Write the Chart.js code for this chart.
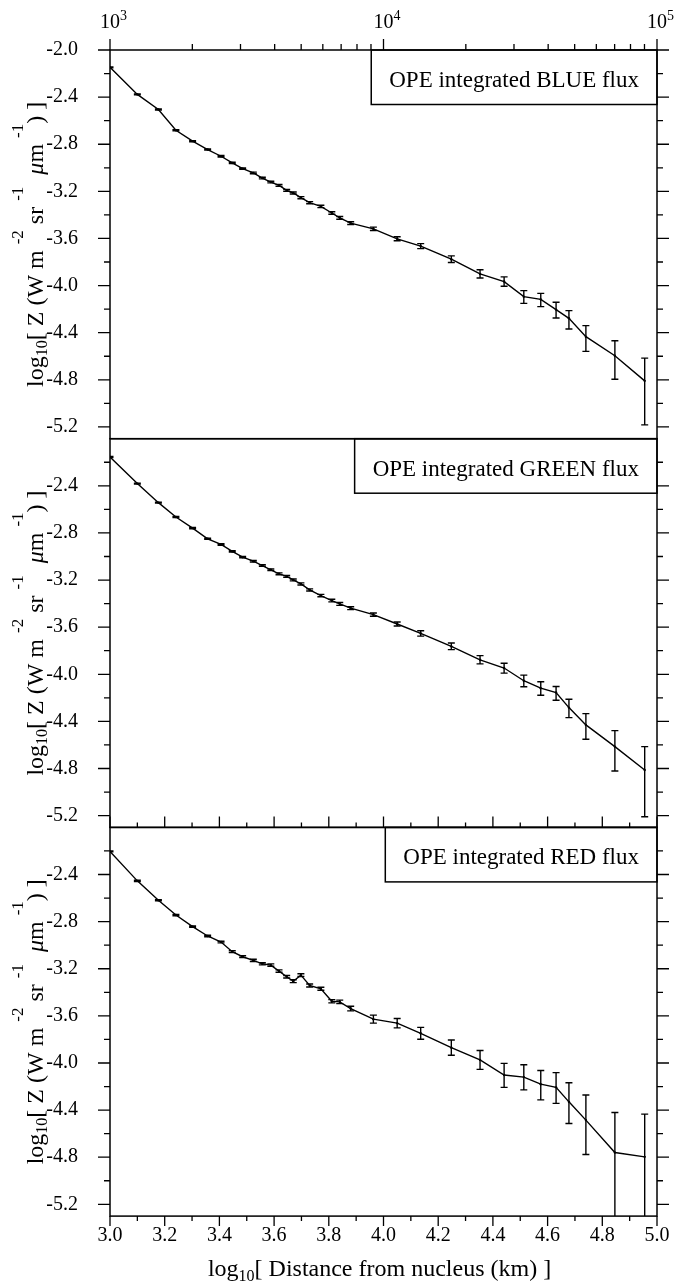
<!DOCTYPE html>
<html>
<head>
<meta charset="utf-8">
<script src="https://cdn.jsdelivr.net/npm/chart.js@4.4.1/dist/chart.umd.min.js"></script>
<style>
  html, body { margin: 0; padding: 0; background: #fff; }
  #wrap { position: relative; width: 687px; height: 1285px; }
  #wrap canvas { position: absolute; left: 0; top: 0; }
</style>
</head>
<body>
<div id="wrap">
  <canvas id="blue" width="687" height="1285"></canvas>
  <canvas id="green" width="687" height="1285"></canvas>
  <canvas id="red" width="687" height="1285"></canvas>
</div>
<script>
// log10 of distance from nucleus (km), same sampling in all three panels
const distance = [3.000, 3.100, 3.177, 3.241, 3.302, 3.357, 3.406, 3.447, 3.485, 3.524, 3.557, 3.588, 3.618, 3.646, 3.670, 3.698, 3.730, 3.771, 3.811, 3.840, 3.880, 3.963, 4.050, 4.136, 4.248, 4.353, 4.441, 4.513, 4.575, 4.631, 4.678, 4.740, 4.846, 4.955]

const blueFlux = [-2.147, -2.377, -2.505, -2.681, -2.774, -2.845, -2.902, -2.959, -3.007, -3.044, -3.087, -3.121, -3.149, -3.191, -3.214, -3.254, -3.296, -3.328, -3.384, -3.425, -3.470, -3.518, -3.603, -3.665, -3.776, -3.901, -3.966, -4.094, -4.117, -4.204, -4.278, -4.434, -4.596, -4.809]
const blueErrUp = [0.004, 0.004, 0.004, 0.005, 0.005, 0.005, 0.006, 0.006, 0.006, 0.007, 0.007, 0.007, 0.008, 0.008, 0.008, 0.009, 0.009, 0.010, 0.011, 0.012, 0.012, 0.014, 0.017, 0.021, 0.028, 0.035, 0.040, 0.051, 0.051, 0.062, 0.065, 0.094, 0.128, 0.193]
const blueErrDown = [0.004, 0.004, 0.004, 0.005, 0.005, 0.005, 0.006, 0.006, 0.006, 0.007, 0.007, 0.007, 0.008, 0.008, 0.008, 0.009, 0.009, 0.010, 0.011, 0.012, 0.012, 0.014, 0.017, 0.021, 0.028, 0.035, 0.040, 0.057, 0.062, 0.071, 0.091, 0.125, 0.199, 0.374]

const greenFlux = [-2.155, -2.381, -2.543, -2.665, -2.759, -2.850, -2.898, -2.957, -3.006, -3.040, -3.077, -3.113, -3.147, -3.168, -3.199, -3.233, -3.284, -3.332, -3.374, -3.403, -3.439, -3.494, -3.573, -3.653, -3.763, -3.877, -3.947, -4.055, -4.118, -4.155, -4.283, -4.430, -4.614, -4.813]
const greenErrUp = [0.004, 0.004, 0.004, 0.005, 0.005, 0.005, 0.006, 0.006, 0.006, 0.007, 0.007, 0.007, 0.008, 0.008, 0.008, 0.009, 0.009, 0.010, 0.011, 0.012, 0.012, 0.014, 0.017, 0.023, 0.028, 0.035, 0.040, 0.048, 0.054, 0.051, 0.071, 0.096, 0.136, 0.199]
const greenErrDown = [0.004, 0.004, 0.004, 0.005, 0.005, 0.005, 0.006, 0.006, 0.006, 0.007, 0.007, 0.007, 0.008, 0.008, 0.008, 0.009, 0.009, 0.010, 0.011, 0.012, 0.012, 0.014, 0.017, 0.023, 0.028, 0.035, 0.043, 0.051, 0.060, 0.065, 0.085, 0.122, 0.207, 0.397]

const redFlux = [-2.204, -2.454, -2.619, -2.744, -2.843, -2.922, -2.973, -3.055, -3.098, -3.129, -3.158, -3.169, -3.220, -3.268, -3.306, -3.254, -3.342, -3.370, -3.476, -3.481, -3.538, -3.628, -3.662, -3.748, -3.870, -3.974, -4.102, -4.120, -4.180, -4.207, -4.330, -4.485, -4.760, -4.797]
const redErrUp = [0.004, 0.005, 0.005, 0.006, 0.006, 0.007, 0.007, 0.008, 0.008, 0.009, 0.009, 0.010, 0.010, 0.011, 0.012, 0.012, 0.013, 0.013, 0.014, 0.015, 0.020, 0.034, 0.040, 0.050, 0.065, 0.080, 0.099, 0.105, 0.116, 0.125, 0.162, 0.213, 0.340, 0.363]
// last two lower bars run off the bottom of the panel
const redErrDown = [0.004, 0.005, 0.005, 0.006, 0.006, 0.007, 0.007, 0.008, 0.008, 0.009, 0.009, 0.010, 0.010, 0.011, 0.012, 0.012, 0.013, 0.013, 0.014, 0.015, 0.020, 0.034, 0.040, 0.050, 0.065, 0.080, 0.105, 0.108, 0.133, 0.136, 0.184, 0.292, 0.900, 0.900]

const yTickLabels = [-2.0, -2.4, -2.8, -3.2, -3.6, -4.0, -4.4, -4.8, -5.2]
const xTickLabels = [3.0, 3.2, 3.4, 3.6, 3.8, 4.0, 4.2, 4.4, 4.6, 4.8, 5.0]
const topDecades = [1e3, 1e4, 1e5]

const W = 687
const H = 1285
const PLOT_LEFT = 110
const PLOT_RIGHT = 657
const PANEL_TOP = 50
const PANEL_H = 388.7
const X_LABEL_H = 60
const Y_MIN = -5.3
const Y_MAX = -2.0
const FONT = '"Liberation Serif", "Times New Roman", Times, serif'

function fontOf(p) {
  return (p.italic ? 'italic ' : '') + p.size + 'px ' + FONT
}

// text with super/subscripts, centred on x
function drawRich(ctx, parts, x, y) {
  let w = 0
  parts.forEach(p => { ctx.font = fontOf(p); w += ctx.measureText(p.t).width })
  let cx = x - w / 2
  parts.forEach(p => {
    ctx.font = fontOf(p)
    ctx.fillText(p.t, cx, y - (p.rise || 0))
    cx += ctx.measureText(p.t).width
  })
}

const yTitle = [
  { t: 'log', size: 24 },
  { t: '10', size: 16, rise: -4 },
  { t: '[ Z (W m ', size: 24 },
  { t: '-2', size: 17, rise: 20 },
  { t: ' sr ', size: 24 },
  { t: '-1', size: 17, rise: 20 },
  { t: '  ', size: 24 },
  { t: 'μ', size: 24, italic: true },
  { t: 'm ', size: 24 },
  { t: '-1', size: 17, rise: 20 },
  { t: ') ]', size: 24 }
]

const xTitle = [
  { t: 'log', size: 24 },
  { t: '10', size: 16, rise: -5 },
  { t: '[ Distance from nucleus (km) ]', size: 24 }
]

const errorBars = {
  id: 'errorBars',
  afterDatasetsDraw(chart) {
    const { ctx, chartArea: a, scales: { x, y } } = chart
    ctx.save()
    ctx.beginPath()
    ctx.rect(a.left, a.top, a.right - a.left, a.bottom - a.top)
    ctx.clip()
    ctx.strokeStyle = '#000'
    ctx.lineWidth = 1.4
    chart.data.datasets.forEach(ds => {
      ds.data.forEach((p, i) => {
        const px = x.getPixelForValue(p.x)
        const hi = y.getPixelForValue(p.y + ds.errUp[i])
        const lo = y.getPixelForValue(p.y - ds.errDown[i])
        ctx.beginPath()
        ctx.moveTo(px, hi); ctx.lineTo(px, lo)
        ctx.moveTo(px - 3.5, hi); ctx.lineTo(px + 3.5, hi)
        ctx.moveTo(px - 3.5, lo); ctx.lineTo(px + 3.5, lo)
        ctx.stroke()
      })
    })
    ctx.restore()
  }
}

// frame, tick marks, legend box and axis titles
const frame = {
  id: 'frame',
  afterDraw(chart, args, opts) {
    const { ctx, chartArea: a, scales } = chart
    const { x, y } = scales
    ctx.save()
    ctx.strokeStyle = '#000'
    ctx.fillStyle = '#000'
    ctx.lineWidth = 1.5
    ctx.strokeRect(a.left, a.top, a.right - a.left, a.bottom - a.top)

    ctx.lineWidth = 1.3
    ctx.beginPath()
    // left and right ticks every 0.2
    for (let i = -26; i <= -10; i++) {
      if (i === -10 && !opts.firstPanel) continue
      const py = y.getPixelForValue(i / 5)
      const len = i % 2 === 0 ? 12 : 6
      ctx.moveTo(a.left, py); ctx.lineTo(a.left - len, py)
      ctx.moveTo(a.right, py); ctx.lineTo(a.right + len, py)
    }
    if (opts.firstPanel) {
      const top = scales.xTop
      topDecades.forEach((d, k) => {
        const n = k < topDecades.length - 1 ? 9 : 1
        for (let m = 1; m <= n; m++) {
          const px = top.getPixelForValue(m * d)
          ctx.moveTo(px, a.top); ctx.lineTo(px, a.top - (m === 1 ? 11 : 6))
        }
      })
    }
    if (opts.lastPanel) {
      for (let i = 30; i <= 50; i++) {
        const px = x.getPixelForValue(i / 10)
        const major = i % 2 === 0
        ctx.moveTo(px, a.top); ctx.lineTo(px, a.top - (major ? 11 : 5))
        ctx.moveTo(px, a.bottom); ctx.lineTo(px, a.bottom + (major ? 10 : 5))
      }
    }
    ctx.stroke()

    // legend box in the top right corner
    const label = chart.data.datasets[0].label
    ctx.font = '23px ' + FONT
    const tw = ctx.measureText(label).width
    const bw = tw + 36
    ctx.lineWidth = 1.5
    ctx.strokeRect(a.right - bw, a.top, bw, 54.5)
    ctx.textBaseline = 'alphabetic'
    ctx.textAlign = 'left'
    ctx.fillText(label, a.right - bw + 18, a.top + 37)

    // y title, rotated
    ctx.save()
    ctx.translate(43, (a.top + a.bottom) / 2)
    ctx.rotate(-Math.PI / 2)
    drawRich(ctx, yTitle, 0, 0)
    ctx.restore()

    if (opts.firstPanel) {
      const top = scales.xTop
      topDecades.forEach(d => {
        const px = top.getPixelForValue(d)
        ctx.font = '20px ' + FONT
        const w10 = ctx.measureText('10').width
        ctx.fillText('10', px - w10 / 2, 28)
        ctx.font = '14px ' + FONT
        ctx.fillText(String(Math.round(Math.log10(d))), px + w10 / 2, 20)
      })
    }
    if (opts.lastPanel) {
      drawRich(ctx, xTitle, (a.left + a.right) / 2 - 4, 1276)
    }
    ctx.restore()
  }
}

function makePanel(id, label, flux, errUp, errDown, index) {
  const first = index === 0
  const last = index === 2
  const top = PANEL_TOP + index * PANEL_H
  const bottom = top + PANEL_H
  const xh = last ? X_LABEL_H : 0
  const scales = {
    x: {
      type: 'linear', min: 3, max: 5, position: 'bottom',
      grid: { display: false, drawTicks: false }, border: { display: false },
      afterBuildTicks: s => { s.ticks = xTickLabels.map(v => ({ value: v })) },
      ticks: {
        display: last, autoSkip: false, maxRotation: 0, padding: 8, color: '#000',
        font: { family: FONT, size: 20 },
        callback: v => Number(v).toFixed(1)
      },
      afterFit: s => { s.height = xh }
    },
    y: {
      type: 'linear', min: Y_MIN, max: Y_MAX, position: 'left',
      grid: { display: false, drawTicks: false }, border: { display: false },
      afterBuildTicks: s => {
        s.ticks = yTickLabels.filter(v => first || v < -2.2).map(v => ({ value: v }))
      },
      ticks: {
        autoSkip: false, padding: 32, color: '#000',
        font: { family: FONT, size: 20 },
        callback: v => Number(v).toFixed(1)
      },
      afterFit: s => { s.width = PLOT_LEFT }
    },
    yRight: {
      type: 'linear', min: Y_MIN, max: Y_MAX, position: 'right',
      grid: { display: false }, border: { display: false },
      ticks: { display: false },
      afterFit: s => { s.width = W - PLOT_RIGHT }
    }
  }
  if (first) {
    scales.xTop = {
      type: 'logarithmic', min: 1e3, max: 1e5, position: 'top',
      grid: { display: false }, border: { display: false },
      ticks: { display: false },
      afterFit: s => { s.height = 0 }
    }
  }

  return new Chart(document.getElementById(id), {
    type: 'line',
    data: {
      datasets: [{
        label: label,
        data: distance.map((d, i) => ({ x: d, y: flux[i] })),
        errUp: errUp,
        errDown: errDown,
        borderColor: '#000',
        backgroundColor: '#000',
        borderWidth: 1.4,
        pointRadius: 1.2,
        pointBorderWidth: 0,
        tension: 0,
        fill: false
      }]
    },
    options: {
      responsive: false,
      maintainAspectRatio: false,
      devicePixelRatio: 1,
      animation: false,
      events: [],
      layout: { padding: { top: top, bottom: H - bottom - xh, left: 0, right: 0 } },
      scales: scales,
      plugins: {
        legend: { display: false },
        tooltip: { enabled: false },
        frame: { firstPanel: first, lastPanel: last }
      }
    },
    plugins: [errorBars, frame]
  })
}

makePanel('blue', 'OPE integrated BLUE flux', blueFlux, blueErrUp, blueErrDown, 0)
makePanel('green', 'OPE integrated GREEN flux', greenFlux, greenErrUp, greenErrDown, 1)
makePanel('red', 'OPE integrated RED flux', redFlux, redErrUp, redErrDown, 2)
</script>
</body>
</html>
